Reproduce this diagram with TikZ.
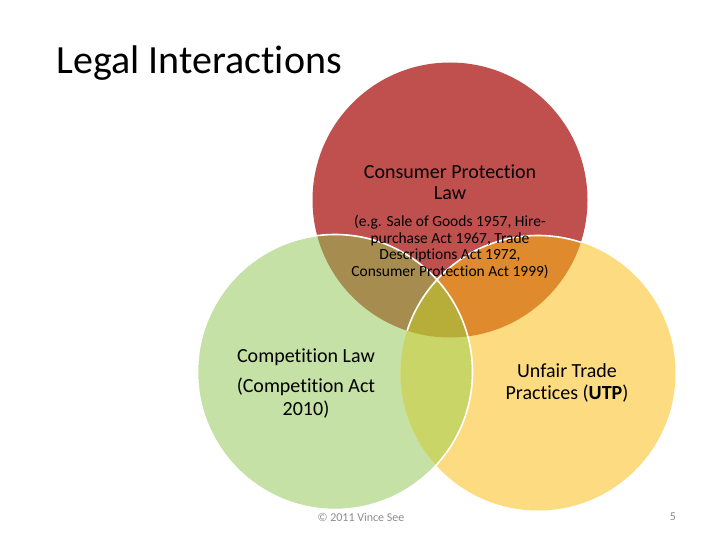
\documentclass[tikz,border=0pt]{standalone}
\usepackage{fontspec}
\setmainfont[Ligatures=NoCommon]{Carlito}
\usetikzlibrary{positioning}

\definecolor{cplred}{HTML}{C0504D}
\definecolor{clgreen}{HTML}{C5E1A5}
\definecolor{utpyellow}{HTML}{FDDB80}
\definecolor{redgreen}{HTML}{A68D4F}
\definecolor{redyellow}{HTML}{DF8A2C}
\definecolor{greenyellow}{HTML}{C9D567}
\definecolor{allthree}{HTML}{B7AE3A}
\definecolor{footgrey}{HTML}{8C8C8C}

\tikzset{
  label/.style={align=center, text=black, inner sep=0pt},
  edge/.style={white, line width=1.6pt}
}
\newcommand{\rad}{137.5}

\begin{document}
\begin{tikzpicture}[x=1pt, y=-1pt]
  \useasboundingbox (0,0) rectangle (720,540);

  \coordinate (cpl) at (450,200);
  \coordinate (cl) at (335,372);
  \coordinate (utp) at (538,373);

  % footer lies under the circles
  \node[font=\fontsize{12}{14}\selectfont, text=footgrey, anchor=west] (copy) at (314,517) {© 2011 Vince See};
  \node[font=\fontsize{12}{14}\selectfont, text=footgrey] (page) at (673,517) {5};

  % circles
  \fill[cplred] (cpl) circle (\rad);
  \fill[clgreen] (cl) circle (\rad);
  \fill[utpyellow] (utp) circle (\rad);

  % overlaps
  \begin{scope}
    \clip (cpl) circle (\rad);
    \fill[redgreen] (cl) circle (\rad);
    \fill[redyellow] (utp) circle (\rad);
  \end{scope}
  \begin{scope}
    \clip (cl) circle (\rad);
    \fill[greenyellow] (utp) circle (\rad);
    \clip (cpl) circle (\rad);
    \fill[allthree] (utp) circle (\rad);
  \end{scope}

  % white rims
  \draw[edge] (cl) circle (\rad);
  \begin{scope}
    \clip (cpl) circle (\rad);
    \draw[edge] (utp) circle (\rad);
  \end{scope}

  % texts
  \node[font=\fontsize{40}{46}\selectfont, anchor=west] (title) at (53,63) {Legal Interactions};

  \node[label, font=\fontsize{20}{21}\selectfont] (cpltitle) at (450,182) {Consumer Protection\\Law};
  \node[label, font=\fontsize{15.5}{16.7}\selectfont] (cplacts) at (450,247)
    {(e.g. Sale of Goods 1957, Hire-\\purchase Act 1967, Trade\\Descriptions Act 1972,\\Consumer Protection Act 1999)};

  \node[label, font=\fontsize{20}{23}\selectfont] (cltitle) at (306,357) {Competition Law};
  \node[label, font=\fontsize{20}{23}\selectfont] (clacts) at (306,398) {(Competition Act\\2010)};

  \node[label, font=\fontsize{20}{22}\selectfont] (utptitle) at (567,383) {Unfair Trade\\Practices (\textbf{UTP})};
\end{tikzpicture}
\end{document}
